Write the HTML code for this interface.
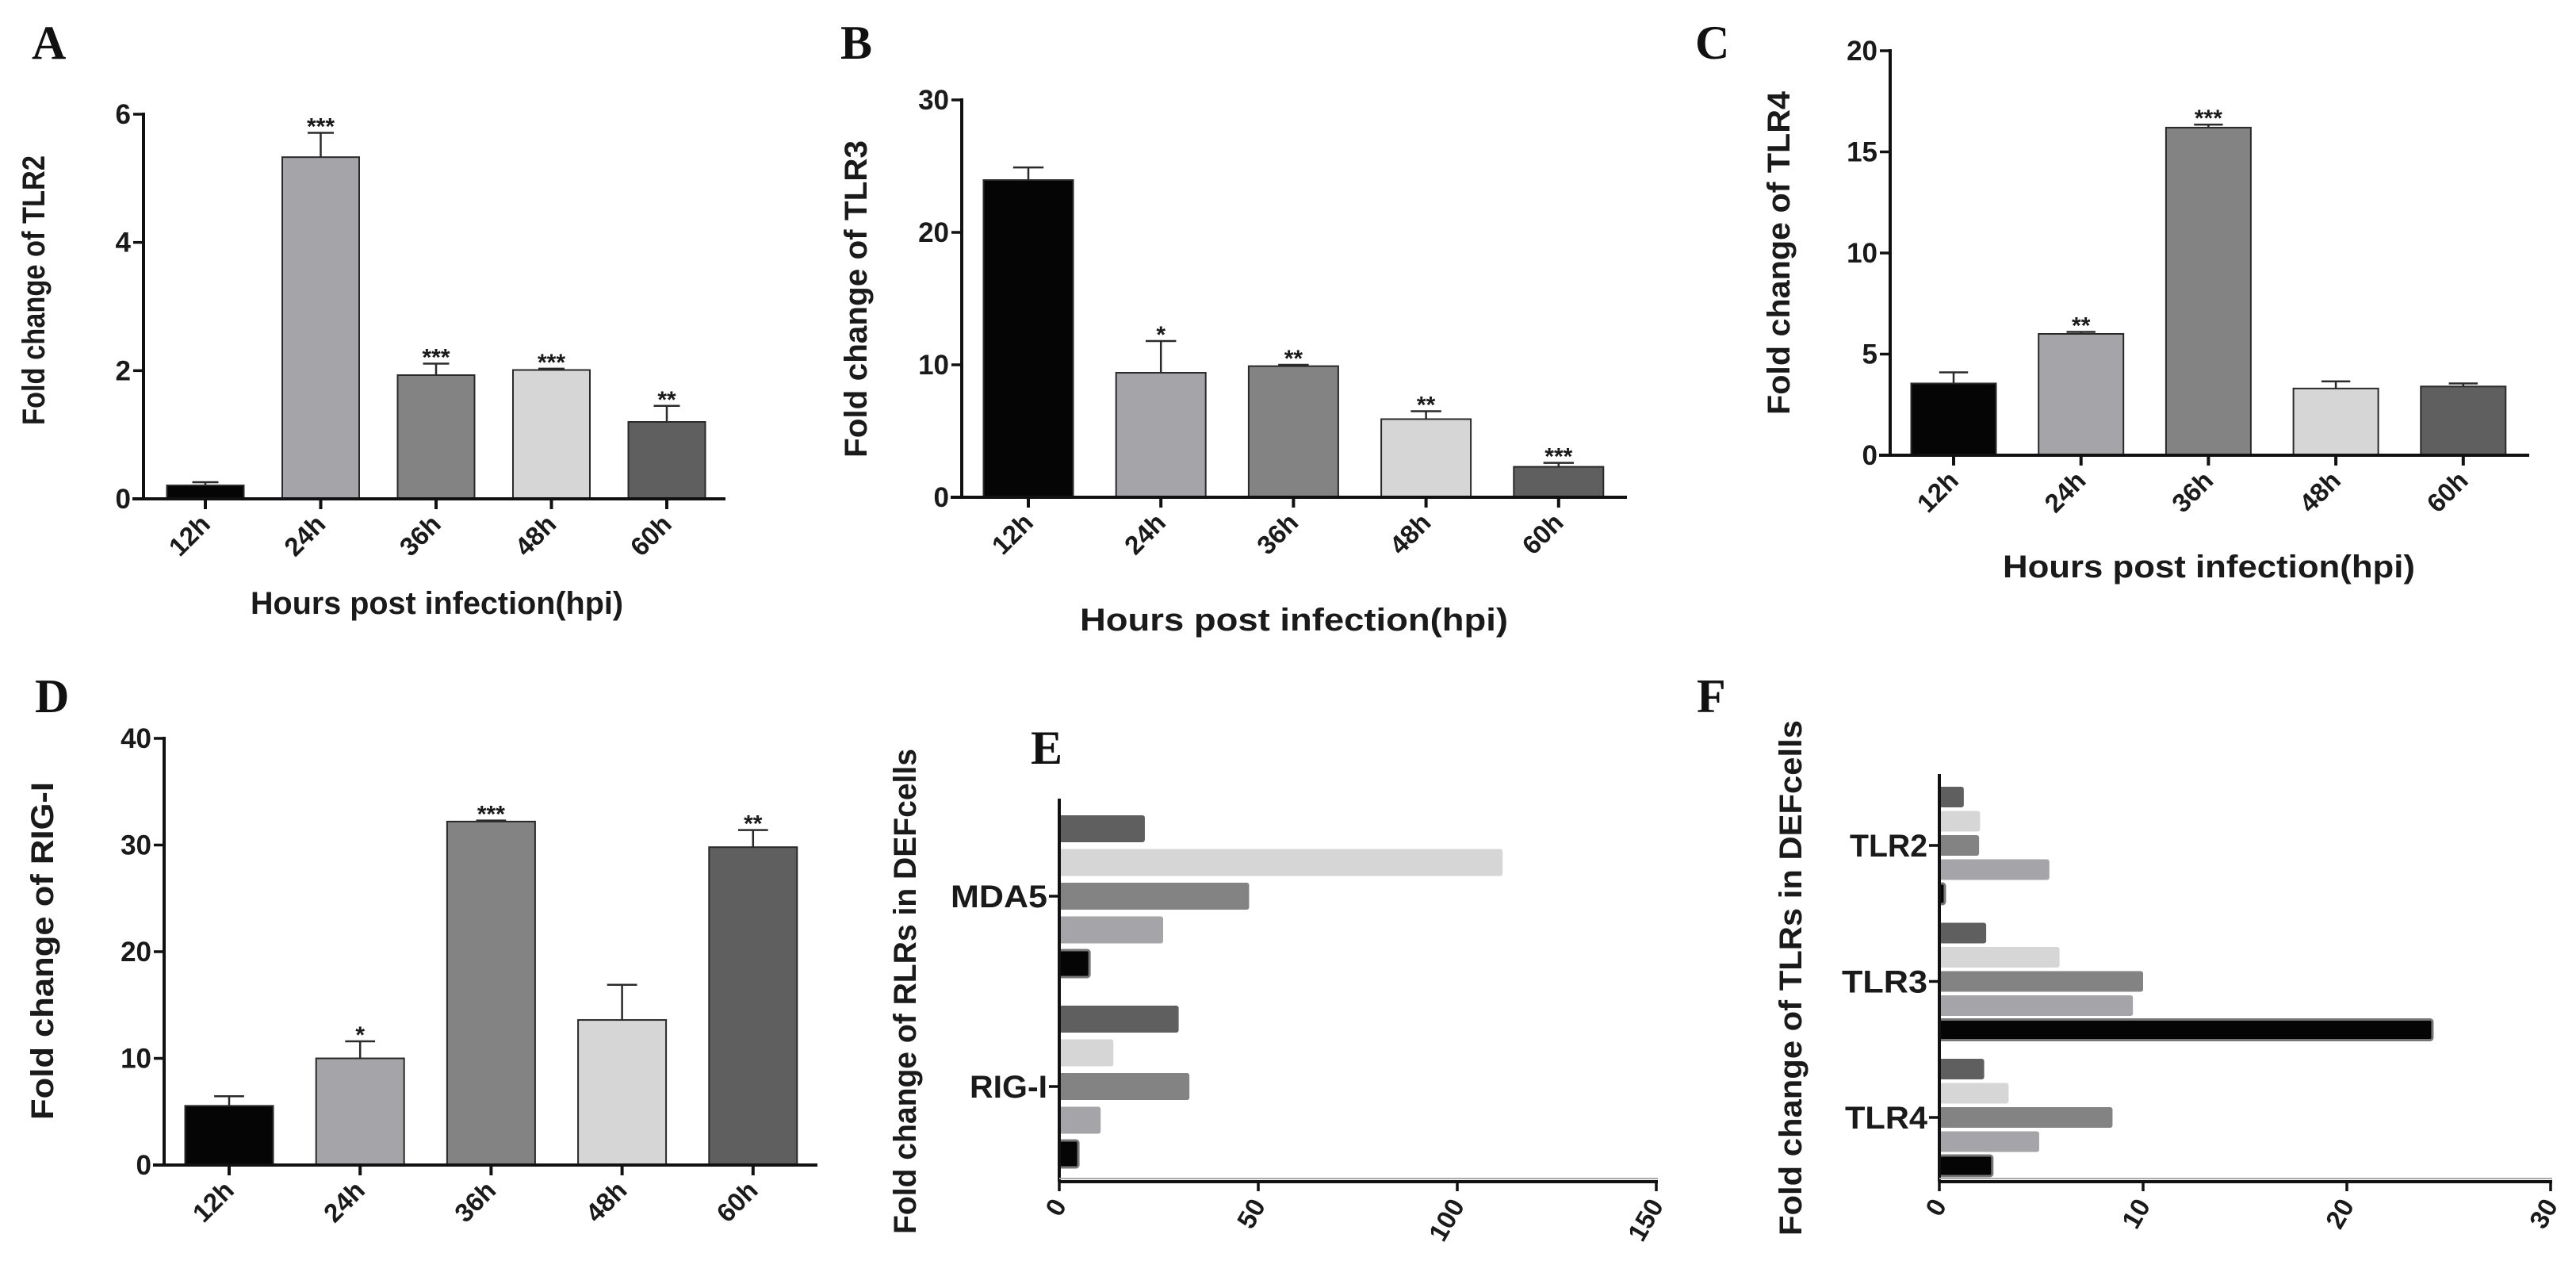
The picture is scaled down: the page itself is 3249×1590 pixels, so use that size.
<!DOCTYPE html>
<html><head><meta charset="utf-8"><title>PRR expression</title>
<style>
html,body{margin:0;padding:0;background:#fff;}
svg{display:block;}
text{font-family:"Liberation Sans",Arial,sans-serif;fill:#1a1a1a;}
.lt{font-family:"Liberation Serif","Times New Roman",serif;font-weight:bold;font-size:60px;fill:#111;}
</style></head>
<body>
<svg id="fig" xmlns="http://www.w3.org/2000/svg" width="3249" height="1590" viewBox="0 0 3249 1590">
<rect x="0" y="0" width="3249" height="1590" fill="#fff"/>
<text class="lt" x="40" y="74">A</text>
<text class="lt" x="1060" y="74">B</text>
<text class="lt" x="2138" y="74">C</text>
<text class="lt" x="44" y="898">D</text>
<text class="lt" x="1300" y="963">E</text>
<text class="lt" x="2140" y="898">F</text>
</svg>
<script>
// ---- data ----
const hours = ["12h","24h","36h","48h","60h"];
const tlr2Vals = [0.21, 5.33, 1.93, 2.01, 1.2];
const tlr2Errs = [0.05, 0.38, 0.18, 0.02, 0.25];
const tlr2Stars = ["", "***", "***", "***", "**"];
const tlr2Ticks = [0, 2, 4, 6];
const tlr3Vals = [23.95, 9.4, 9.9, 5.9, 2.3];
const tlr3Errs = [0.95, 2.4, 0.1, 0.6, 0.3];
const tlr3Stars = ["", "*", "**", "**", "***"];
const tlr3Ticks = [0, 10, 20, 30];
const tlr4Vals = [3.55, 6.0, 16.2, 3.3, 3.4];
const tlr4Errs = [0.55, 0.1, 0.15, 0.35, 0.15];
const tlr4Stars = ["", "**", "***", "", ""];
const tlr4Ticks = [0, 5, 10, 15, 20];
const rigVals = [5.55, 10.0, 32.2, 13.6, 29.8];
const rigErrs = [0.9, 1.6, 0.1, 3.3, 1.6];
const rigStars = ["", "*", "***", "", "**"];
const rigTicks = [0, 10, 20, 30, 40];
const rlrGroups = ["MDA5", "RIG-I"];
const mda5Vals = [7.6, 26.1, 47.7, 111.4, 21.5];
const rigIVals = [4.8, 10.4, 32.7, 13.6, 30.0];
const rlrTicks = [0, 50, 100, 150];
const tlrGroups = ["TLR2", "TLR3", "TLR4"];
const tlr2hVals = [0.27, 5.4, 1.95, 2.0, 1.2];
const tlr3hVals = [24.2, 9.5, 10.0, 5.9, 2.3];
const tlr4hVals = [2.6, 4.9, 8.5, 3.4, 2.2];
const tlrTicks = [0, 10, 20, 30];

const colors = ["#050505", "#a4a4a9", "#838383", "#d6d6d6", "#5f5f5f"];
const NS = "http://www.w3.org/2000/svg";
const svg = document.getElementById("fig");
function mk(tag, attrs, parent, txt) {
  const e = document.createElementNS(NS, tag);
  for (const k in attrs) e.setAttribute(k, attrs[k]);
  if (txt !== undefined) e.textContent = txt;
  (parent || svg).appendChild(e);
  return e;
}

function vchart(cfg, vals, errs, stars, ticks) {
  const g = mk("g", {});
  
  
  const yS = v => cfg.y0 - (v - ticks[0]) / (ticks[ticks.length - 1] - ticks[0]) * (cfg.y0 - cfg.yTop);
  const xC = i => cfg.c0 + i * cfg.step;
  vals.forEach((v, i) => {
    const r = mk("rect", {x: xC(i) - cfg.w / 2, y: yS(v), width: cfg.w, height: cfg.y0 - yS(v), fill: colors[i], stroke: "#2a2a2a", "stroke-width": 2}, g);
    
    
    const eTop = yS(v + errs[i]);
    const el = mk("path", {d: `M${xC(i)},${yS(v)}V${eTop}M${xC(i) - cfg.w * 0.17},${eTop}H${xC(i) + cfg.w * 0.17}`, stroke: "#2a2a2a", "stroke-width": 2.5, fill: "none"}, g);
    
    
    if (stars[i]) {
      const s = mk("text", {x: xC(i), y: eTop + 2, "text-anchor": "middle", "font-size": 30, "font-weight": "bold"}, g, stars[i]);
      
      
    }
    const tk = mk("line", {x1: xC(i), x2: xC(i), y1: cfg.y0, y2: cfg.y0 + 13, stroke: "#111", "stroke-width": 4}, g);
    
    
    const lx = xC(i) + 8, ly = cfg.y0 + 34;
    const t = mk("text", {x: lx, y: ly, "text-anchor": "end", "font-size": 33, "font-weight": "bold", transform: `rotate(-45 ${lx} ${ly})`}, g, hours[i]);
    
    
  });
  const ya = mk("line", {x1: cfg.ax, x2: cfg.ax, y1: cfg.yTop - 2, y2: cfg.y0 + 2, stroke: "#111", "stroke-width": 4}, g);
  
  
  const xa = mk("line", {x1: cfg.ax - 14, x2: cfg.xEnd, y1: cfg.y0, y2: cfg.y0, stroke: "#111", "stroke-width": 4}, g);
  
  
  ticks.forEach(t => {
    const l = mk("line", {x1: cfg.ax - 13, x2: cfg.ax, y1: yS(t), y2: yS(t), stroke: "#111", "stroke-width": 3.5}, g);
    
    
    const tx = mk("text", {x: cfg.ax - 16, y: yS(t) + 12, "text-anchor": "end", "font-size": 35, "font-weight": "bold"}, g, String(t));
    
    
  });
  const yt = mk("text", {x: cfg.ytX, y: cfg.ytY, "text-anchor": "middle", "font-size": 40, "font-weight": "bold", textLength: cfg.ytLen, lengthAdjust: "spacingAndGlyphs", transform: `rotate(-90 ${cfg.ytX} ${cfg.ytY})`}, g, cfg.ytitle);
  
  
  if (cfg.xtitle) {
    const xt = mk("text", {x: cfg.xtX, y: cfg.xtY, "text-anchor": "middle", "font-size": 40, "font-weight": "bold", textLength: cfg.xtLen, lengthAdjust: "spacingAndGlyphs"}, g, cfg.xtitle);
    
    
  }
}

vchart({name: "chart-tlr2", ax: 181, y0: 629, yTop: 144, xEnd: 915, c0: 259, step: 145.5, w: 97,
  ytitle: "Fold change of TLR2", ytX: 56, ytY: 366, ytLen: 340,
  xtitle: "Hours post infection(hpi)", xtX: 551, xtY: 774, xtLen: 470}, tlr2Vals, tlr2Errs, tlr2Stars, tlr2Ticks);
vchart({name: "chart-tlr3", ax: 1213, y0: 627, yTop: 126, xEnd: 2052, c0: 1297, step: 167.2, w: 113,
  ytitle: "Fold change of TLR3", ytX: 1093, ytY: 377, ytLen: 400,
  xtitle: "Hours post infection(hpi)", xtX: 1632, xtY: 795, xtLen: 540}, tlr3Vals, tlr3Errs, tlr3Stars, tlr3Ticks);
vchart({name: "chart-tlr4", ax: 2384, y0: 574, yTop: 64, xEnd: 3190, c0: 2464, step: 160.7, w: 107,
  ytitle: "Fold change of TLR4", ytX: 2257, ytY: 319, ytLen: 408,
  xtitle: "Hours post infection(hpi)", xtX: 2786, xtY: 728, xtLen: 520}, tlr4Vals, tlr4Errs, tlr4Stars, tlr4Ticks);
vchart({name: "chart-rig-i", ax: 207, y0: 1469, yTop: 931, xEnd: 1031, c0: 289, step: 165.2, w: 111,
  ytitle: "Fold change of RIG-I", ytX: 67, ytY: 1199, ytLen: 426}, rigVals, rigErrs, rigStars, rigTicks);

function hchart(cfg, groups, series, ticks) {
  const g = mk("g", {});
  
  
  const xS = v => cfg.ax + (v - ticks[0]) / (ticks[ticks.length - 1] - ticks[0]) * (cfg.xMax - cfg.ax);
  groups.forEach((grp, gi) => {
    const vals = series[gi];
    const gTop = cfg.gTop + gi * cfg.gStep;
    for (let k = 0; k < 5; k++) {
      const i = 4 - k;
      const y = gTop + k * cfg.bStep;
      const r = mk("rect", {x: cfg.ax, y: y, width: xS(vals[i]) - cfg.ax, height: cfg.bH, rx: 3, fill: colors[i], stroke: i === 0 ? "#777" : "none", "stroke-width": i === 0 ? 3 : 0}, g);
      
      
    }
    const cy = gTop + 2 * cfg.bStep + cfg.bH / 2;
    const tk = mk("line", {x1: cfg.ax - 13, x2: cfg.ax, y1: cy, y2: cy, stroke: "#111", "stroke-width": 3.5}, g);
    
    
    const t = mk("text", {x: cfg.ax - 15, y: cy + 14, "text-anchor": "end", "font-size": 40, "font-weight": "bold", textLength: cfg.labLen[gi], lengthAdjust: "spacingAndGlyphs"}, g, grp);
    
    
  });
  const ya = mk("line", {x1: cfg.ax, x2: cfg.ax, y1: cfg.yTop, y2: cfg.y0, stroke: "#111", "stroke-width": 4}, g);
  
  
  const xa = mk("line", {x1: cfg.ax, x2: cfg.xMax + 2, y1: cfg.y0, y2: cfg.y0, stroke: "#111", "stroke-width": 4}, g);
  
  
  const xa2 = mk("line", {x1: cfg.ax, x2: cfg.xMax + 2, y1: cfg.y0 - 4, y2: cfg.y0 - 4, stroke: "#aaa", "stroke-width": 2}, g);
  
  
  ticks.forEach(v => {
    const l = mk("line", {x1: xS(v), x2: xS(v), y1: cfg.y0, y2: cfg.y0 + 12, stroke: "#111", "stroke-width": 3.5}, g);
    
    
    const lx = xS(v) + 10, ly = cfg.y0 + 30;
    const t = mk("text", {x: lx, y: ly, "text-anchor": "end", "font-size": 33, "font-weight": "bold", transform: `rotate(-60 ${lx} ${ly})`}, g, String(v));
    
    
  });
  const yt = mk("text", {x: cfg.ytX, y: cfg.ytY, "text-anchor": "middle", "font-size": 40, "font-weight": "bold", textLength: cfg.ytLen, lengthAdjust: "spacingAndGlyphs", transform: `rotate(-90 ${cfg.ytX} ${cfg.ytY})`}, g, cfg.ytitle);
  
  
}

hchart({name: "chart-rlrs", ax: 1336, xMax: 2089, y0: 1490, yTop: 1007, gTop: 1028, gStep: 240, bStep: 42.5, bH: 34,
  labLen: [122, 98], ytitle: "Fold change of RLRs in DEFcells", ytX: 1155, ytY: 1250, ytLen: 612},
  rlrGroups, [mda5Vals, rigIVals], rlrTicks);
hchart({name: "chart-tlrs", ax: 2446, xMax: 3217, y0: 1490, yTop: 976, gTop: 992, gStep: 171.5, bStep: 30.5, bH: 26,
  labLen: [98, 108, 104], ytitle: "Fold change of TLRs in DEFcells", ytX: 2272, ytY: 1233, ytLen: 650},
  tlrGroups, [tlr2hVals, tlr3hVals, tlr4hVals], tlrTicks);
</script>
</body></html>
